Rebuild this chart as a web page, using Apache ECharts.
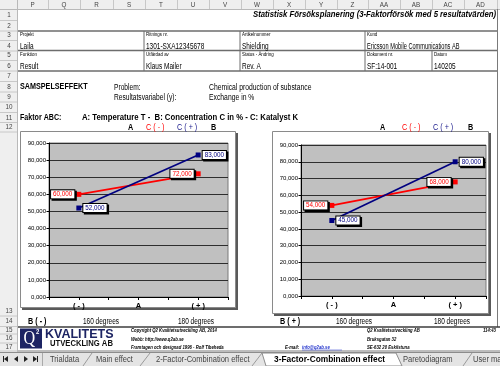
<!DOCTYPE html>
<html><head><meta charset="utf-8">
<script src="https://cdn.jsdelivr.net/npm/echarts@6/dist/echarts.min.js"></script>
<style>html,body{margin:0;padding:0;background:#fff}#c{width:500px;height:366px}</style>
</head><body><div id="c"></div>
<script>
// ---- data ----
const categories  = ['', '( - )', '', 'A', '', '( + )', ''];
const leftCMinus  = [null, 60, null, null, null, 72, null];
const leftCPlus   = [null, 52, null, null, null, 83, null];
const rightCMinus = [null, 54, null, null, null, 68, null];
const rightCPlus  = [null, 45, null, null, null, 80, null];
const yMin = 0, yMax = 90, yStep = 10;
const colLetters = ['P','Q','R','S','T','U','V','W','X','Y','Z','AA','AB','AC','AD'];
const rowNumbers = ['1','2','3','4','5','6','7','8','9','10','11','12','13','14','15','16','17'];
const tabNames = ['Trialdata','Main effect','2-Factor-Combination effect','3-Factor-Combination effect','Paretodiagram','User manual'];

// ---- drawing helpers ----
const SX = 0.78;
const FF = '"Liberation Sans", Arial, sans-serif';
const G = [];
function txt(x, y, text, o) {
  o = o || {};
  G.push({type:'text', x:x, y:y, scaleX:(o.sx==null?SX:o.sx), z:(o.z==null?50:o.z), silent:true,
    style:{text:text, x:0, y:0, fill:o.color||'#000',
      font:(o.italic?'italic ':'')+(o.bold?'bold ':'')+(o.size||8)+'px '+(o.family||FF),
      textAlign:o.align||'left', textVerticalAlign:'middle'}});
}
function line(x1, y1, x2, y2, c, w, z) {
  G.push({type:'line', z:(z==null?40:z), silent:true, shape:{x1:x1,y1:y1,x2:x2,y2:y2}, style:{stroke:c, lineWidth:w||1}});
}
function rect(x, y, w, h, fill, stroke, lw, z) {
  G.push({type:'rect', z:(z==null?-5:z), silent:true, shape:{x:x,y:y,width:w,height:h},
    style:{fill:fill||'none', stroke:stroke||null, lineWidth:lw||0}});
}
function poly(pts, fill, stroke, z) {
  G.push({type:'polygon', z:(z==null?30:z), silent:true, shape:{points:pts}, style:{fill:fill, stroke:stroke||null, lineWidth:1}});
}

// ---- spreadsheet headers ----
rect(0, 0, 500, 9, '#efefef', null, 0, 20);
rect(0, 0, 17, 352, '#efefef', null, 0, 20);
line(0, 9.5, 500, 9.5, '#b9b9b9', 1, 21);
line(17.5, 0, 17.5, 352, '#b9b9b9', 1, 21);
const colSep = [48, 80, 113, 145, 177, 209, 241, 273, 305, 337, 368, 400, 432, 464, 497];
colSep.forEach(x => line(x + 0.5, 0, x + 0.5, 9, '#c8c8c8', 1, 21));
let prev = 17;
colLetters.forEach((l, i) => { txt((prev + colSep[i]) / 2, 5, l, {size:7, color:'#444', align:'center', sx:0.9, z:22}); prev = colSep[i]; });
const rowY = [15, 26, 35.5, 46.5, 55, 66, 76, 87, 97, 107.5, 118, 127.5, 311, 321.5, 330, 338.5, 347];
const rowSep = [20.5, 31, 40.5, 51, 60.5, 71, 81.5, 92, 102, 112.5, 122.5, 132, 316, 326.5, 334, 343, 351];
rowSep.forEach(y => line(0, y, 17, y, '#c8c8c8', 1, 21));
rowNumbers.forEach((n, i) => txt(9, rowY[i], n, {size:7, color:'#444', align:'center', sx:0.9, z:22}));

// ---- title + header table ----
txt(496, 14.5, 'Statistisk Försöksplanering (3-Faktorförsök med 5 resultatvärden)', {size:9.8, bold:true, italic:true, align:'right', sx:0.79});
line(18, 31, 497, 31, '#6d6d6d', 1.5);
line(18, 50.5, 497, 50.5, '#6d6d6d', 1.5);
line(18, 71, 497, 71, '#6d6d6d', 1.5);
line(144, 31, 144, 71, '#6d6d6d', 1);
line(240, 31, 240, 71, '#6d6d6d', 1);
line(365, 31, 365, 71, '#6d6d6d', 1);
line(432, 50.5, 432, 71, '#6d6d6d', 1);
line(497.5, 9, 497.5, 327, '#7a7a7a', 1);
const small = {size:5.2, sx:0.85};
const val = {size:8.3};
txt(20, 34.8, 'Projekt', small);        txt(20, 46.5, 'Laila', val);
txt(146, 34.8, 'Ritnings nr.', small);  txt(146, 46.5, '1301-SXA12345678', val);
txt(242, 34.8, 'Artikelnummer', small); txt(242, 46.5, 'Shielding', val);
txt(367, 34.8, 'Kund', small);          txt(367, 46.5, 'Ericsson Mobile Communications AB', {size:8.3, sx:0.68});
txt(20, 54.5, 'Funktion', small);       txt(20, 66.3, 'Result', val);
txt(146, 54.5, 'Utfärdad av', small);   txt(146, 66.3, 'Klaus Mailer', val);
txt(242, 54.5, 'Status - Ändring', small); txt(242, 66.3, 'Rev. A', val);
txt(367, 54.5, 'Dokument nr.', small);  txt(367, 66.3, 'SF:14-001', val);
txt(434, 54.5, 'Datum', small);         txt(434, 66.3, '140205', val);

// ---- text rows ----
txt(20, 87, 'SAMSPELSEFFEKT', {size:9, bold:true, sx:0.8});
txt(114, 87.5, 'Problem:', {size:8.3, sx:0.8});
txt(209, 87.5, 'Chemical production of substance', {size:8.5, sx:0.8});
txt(114, 97.5, 'Resultatsvariabel (y):', {size:8.3, sx:0.8});
txt(209, 97.5, 'Exchange in %', {size:8.5, sx:0.8});
txt(20, 118, 'Faktor ABC:', {size:8.9, bold:true, sx:0.8});
txt(82, 118, 'A: Temperature T -  B: Concentration C in % - C: Katalyst K', {size:9, bold:true, sx:0.86});
// series headers above charts
[[128, 146, 177, 211], [380, 402, 433, 468]].forEach(p => {
  txt(p[0], 127.5, 'A', {size:8.5, bold:true, sx:0.85});
  txt(p[1], 127.5, 'C ( - )', {size:8.5, color:'#ff0000', sx:0.85});
  txt(p[2], 127.5, 'C ( + )', {size:8.5, color:'#1a1a8c', sx:0.85});
  txt(p[3], 127.5, 'B', {size:8.5, bold:true, sx:0.85});
});
// chart frames (behind plot areas)
rect(22, 133, 216, 177, '#5a5a5a', null, 0, -6);
rect(20.5, 131.5, 215, 176, '#ffffff', '#8a8a8a', 1, -5);
rect(274, 133, 217, 183, '#5a5a5a', null, 0, -6);
rect(272.5, 131.5, 216, 182, '#ffffff', '#8a8a8a', 1, -5);
// row 14
txt(28, 321.5, 'B ( - )', {size:8.5, bold:true, sx:0.85});
txt(83, 321.5, '160 degrees', {size:8.3});
txt(178, 321.5, '180 degrees', {size:8.3});
txt(280, 321.5, 'B ( + )', {size:8.5, bold:true, sx:0.85});
txt(336, 321.5, '160 degrees', {size:8.3});
txt(434, 321.5, '180 degrees', {size:8.3});

// ---- footer / logo ----
line(18, 327, 500, 327, '#3c3c3c', 1.5);
line(18, 351, 500, 351, '#7a7a7a', 1);
rect(20, 328.5, 22, 20, '#1d2463', null, 0, 30);
txt(23.5, 339.5, 'Q', {size:19, color:'#fff', family:'"Liberation Serif", serif', sx:0.85, z:31});
txt(36, 332.5, '2', {size:7, color:'#fff', bold:true, sx:0.85, z:31});
txt(45, 334.5, 'KVALITETS', {size:12.5, bold:true, color:'#1d2463', sx:1.0});
txt(50, 343.5, 'UTVECKLING AB', {size:8.5, bold:true, color:'#111', sx:0.9});
const foot = {size:5, bold:true, italic:true, sx:0.85};
txt(131, 331, 'Copyright Q2 Kvalitetsutveckling AB, 2014', foot);
txt(131, 339.5, 'Webb: http://www.q2ab.se', foot);
txt(131, 348, 'Framtagen och designad 1996 - Rolf Tibeheda', foot);
txt(367, 331, 'Q2 Kvalitetsutveckling AB', foot);
txt(367, 339.5, 'Bruksgatan 32', foot);
txt(367, 348, 'SE-632 20 Eskilstuna', foot);
txt(285, 348, 'E-mail:', foot);
txt(302, 348, 'info@q2ab.se', Object.assign({}, foot, {color:'#2233cc'}));
line(302, 350, 342, 350, '#2233cc', 0.5);
txt(483, 331, '114:43', foot);

// ---- sheet tabs ----
rect(0, 352, 500, 14, '#e4e4e4', null, 0, 20);
line(0, 352.5, 500, 352.5, '#8c8c8c', 1, 21);
// nav buttons
poly([[8,356],[8,362],[4,359]], '#222', null, 22); line(3.5, 356, 3.5, 362, '#222', 1, 22);
poly([[18,356],[18,362],[14,359]], '#222', null, 22);
poly([[24,356],[24,362],[28,359]], '#222', null, 22);
poly([[33,356],[33,362],[37,359]], '#222', null, 22); line(37.5, 356, 37.5, 362, '#222', 1, 22);
line(42.5, 353, 42.5, 366, '#aaa', 1, 22);
// tab separators (slanted)
[[83, 92], [140, 150], [252, 262], [463, 472]].forEach(s => line(s[0], 366, s[1], 353, '#9a9a9a', 1, 22));
// active tab
poly([[262,353],[396,353],[402,366],[266,366]], '#ffffff', '#8c8c8c', 23);
const tabX = [50, 96, 156, 274, 403, 473];
tabNames.forEach((t, i) => txt(tabX[i], 359.5, t, {size:9.7, color:(i===3?'#000':'#444'), bold:i===3, sx:(i===3?0.86:0.78), z:25}));

// ---- charts ----
const chart = echarts.init(document.getElementById('c'), null, {renderer:'canvas'});
function xAx(i) {
  return {type:'category', gridIndex:i, data:categories, boundaryGap:false,
    axisLine:{lineStyle:{color:'#000', width:1}},
    axisTick:{show:true, interval:0, length:3, lineStyle:{color:'#000'}},
    axisLabel:{interval:0, fontSize:7.5, fontWeight:'bold', color:'#000', margin:5, fontFamily:FF},
    splitLine:{show:false}};
}
function yAx(i) {
  return {type:'value', gridIndex:i, min:yMin, max:yMax, interval:yStep,
    axisLine:{show:true, lineStyle:{color:'#000'}},
    axisTick:{show:true, length:2.5, lineStyle:{color:'#000'}},
    axisLabel:{fontSize:6, color:'#000', margin:3, fontFamily:FF, formatter:v => v + ',000'},
    splitLine:{show:true, lineStyle:{color:'#2e2e2e', width:1}}};
}
function ser(data, color, i, side) {
  return {type:'line', xAxisIndex:i, yAxisIndex:i, connectNulls:true, symbol:'rect', symbolSize:5, z:5,
    data:data, lineStyle:{color:color, width:1.7}, itemStyle:{color:color},
    emphasis:{disabled:true},
    label:{show:true, position:side, distance:2, formatter:p => p.value + ',000',
      color:color, fontSize:6.3, fontFamily:FF, backgroundColor:'#fff', borderColor:'#000', borderWidth:1,
      padding:[1.5,2,0.5,2], shadowColor:'#000', shadowOffsetX:1.5, shadowOffsetY:1.5, shadowBlur:0}};
}
chart.setOption({
  animation:false,
  backgroundColor:'#ffffff',
  grid:[
    {left:49, top:143, width:179, height:154, show:true, backgroundColor:'#c0c0c0', borderColor:'#7a7a7a', borderWidth:1},
    {left:301, top:145, width:185, height:151, show:true, backgroundColor:'#c0c0c0', borderColor:'#7a7a7a', borderWidth:1}
  ],
  xAxis:[xAx(0), xAx(1)],
  yAxis:[yAx(0), yAx(1)],
  series:[
    ser(leftCMinus, '#ff0000', 0, 'left'),
    ser(leftCPlus, '#000080', 0, 'right'),
    ser(rightCMinus, '#ff0000', 1, 'left'),
    ser(rightCPlus, '#000080', 1, 'right')
  ],
  graphic:{elements:G}
});
</script></body></html>
